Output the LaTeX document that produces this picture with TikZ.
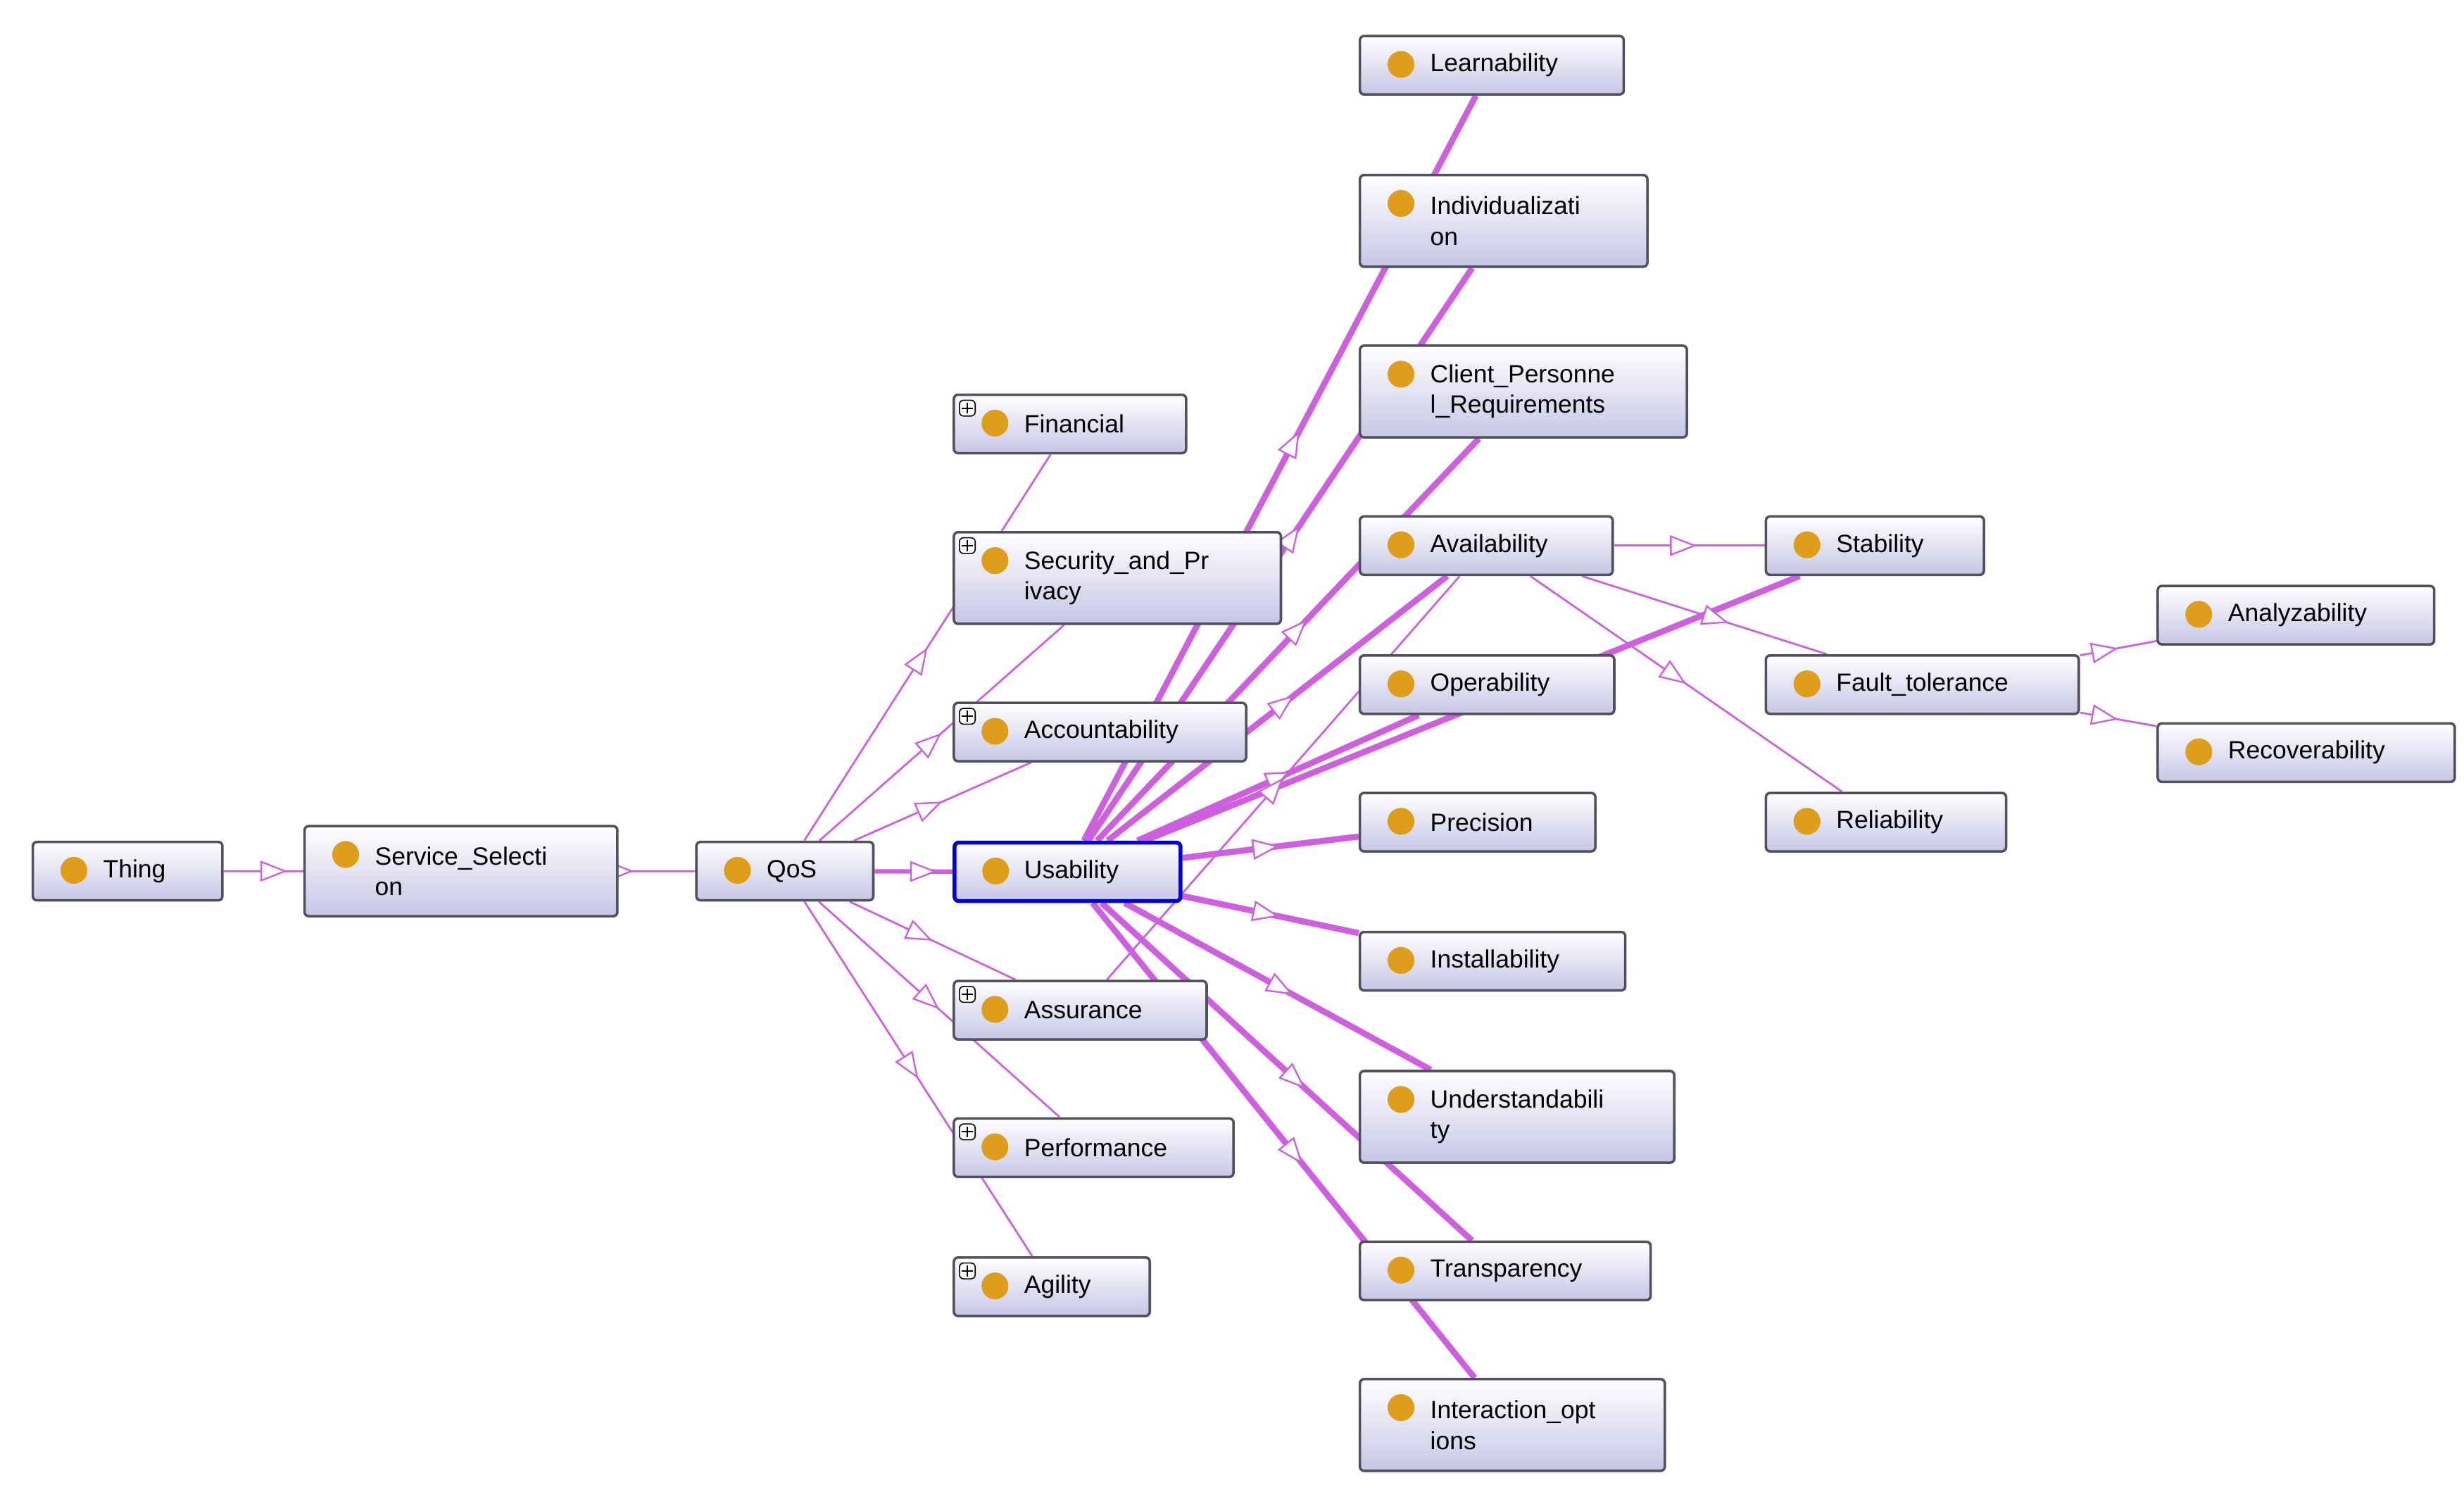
\documentclass[tikz,border=0pt]{standalone}
\usepackage{fontspec}
\setmainfont{Liberation Sans}
\usetikzlibrary{arrows.meta,decorations.markings,backgrounds}
\definecolor{edgec}{RGB}{206,96,224}
\definecolor{dotc}{RGB}{222,158,28}
\definecolor{boxc}{RGB}{198,198,230}
\definecolor{framec}{RGB}{80,80,95}
\tikzset{
  cls/.style={rectangle, rounded corners=1.5pt, draw=framec, line width=0.9pt,
    top color=white, bottom color=boxc, inner sep=0pt,
    path picture={\fill[dotc] ([xshift=0.52cm,yshift=-0.36cm]path picture bounding box.north west) circle (0.17cm);}},
  clsp/.style={cls,
    path picture={\fill[dotc] ([xshift=0.52cm,yshift=-0.36cm]path picture bounding box.north west) circle (0.17cm);
      \draw[black, line width=0.4pt, fill=white] ([xshift=0.07cm,yshift=-0.07cm]path picture bounding box.north west) rectangle ++(0.2cm,-0.2cm);
      \draw[black, line width=0.5pt] ([xshift=0.17cm,yshift=-0.1cm]path picture bounding box.north west) -- ++(0,-0.14cm)
        ([xshift=0.1cm,yshift=-0.17cm]path picture bounding box.north west) -- ++(0.14cm,0);}},
  lbl/.style={anchor=west, xshift=0.9cm, align=left, inner sep=0pt, font=\fontsize{9}{11}\selectfont},
  sel/.style={draw=blue!85!black, line width=1.4pt},
  sub/.style={draw=edgec, line width=0.7pt, postaction={decorate},
    decoration={markings, mark=at position #1 with {\arrow{Triangle[open, fill=white, length=0.34cm, width=0.26cm, line width=0.6pt]}}}},
  sub/.default=0.6,
  subt/.style={sub=#1, line width=2.2pt},
  subt/.default=0.55,
}
\newcommand\cls[7][cls]{%
  \node[#1, minimum width={(#5-#3)*0.02cm}, minimum height={(#6-#4)*0.02cm}, anchor=north west,
    label={[lbl]west:#7}] (#2) at (#3*0.02,-#4*0.02) {};}
\begin{document}
\begin{tikzpicture}
\useasboundingbox (0,0) rectangle (31.2,-18.86);

\cls{thing}{20}{532}{140}{569}{Thing}
\cls{service}{192}{522}{390}{579}{Service\_Selecti\\on}
\cls{qos}{440}{532}{552}{569}{QoS}
\cls[clsp]{financial}{603}{249}{750}{286}{Financial}
\cls[clsp]{security}{603}{336}{810}{394}{Security\_and\_Pr\\ivacy}
\cls[clsp]{accountability}{603}{444}{788}{481}{Accountability}
\cls[cls,sel]{usability}{603}{532}{746}{569}{Usability}
\cls[clsp]{assurance}{603}{620}{763}{657}{Assurance}
\cls[clsp]{performance}{603}{707}{780}{744}{Performance}
\cls[clsp]{agility}{603}{795}{727}{832}{Agility}
\cls{learnability}{860}{22}{1027}{59}{Learnability}
\cls{individual}{860}{110}{1042}{168}{Individualizati\\on}
\cls{client}{860}{218}{1067}{276}{Client\_Personne\\l\_Requirements}
\cls{availability}{860}{326}{1020}{363}{Availability}
\cls{operability}{860}{414}{1021}{451}{Operability}
\cls{precision}{860}{501}{1009}{538}{Precision}
\cls{installability}{860}{589}{1028}{626}{Installability}
\cls{understand}{860}{677}{1059}{735}{Understandabili\\ty}
\cls{transparency}{860}{785}{1044}{822}{Transparency}
\cls{interaction}{860}{872}{1053}{930}{Interaction\_opt\\ions}
\cls{stability}{1117}{326}{1255}{363}{Stability}
\cls{fault}{1117}{414}{1315}{451}{Fault\_tolerance}
\cls{reliability}{1117}{501}{1269}{538}{Reliability}
\cls{analyz}{1365}{370}{1540}{407}{Analyzability}
\cls{recover}{1365}{457}{1553}{494}{Recoverability}

\begin{scope}[on background layer]
  \draw[sub=0.8] (thing) -- (service);
  \draw[sub=0.2] (service) -- (qos);
  \draw[subt=0.8, line width=1.6pt] (qos) -- (usability);
  \foreach \c in {financial, security, accountability, assurance, performance, agility}
    \draw[sub=0.5] (qos) -- (\c);
  \foreach \c in {learnability, individual, client, availability, operability, precision,
      installability, understand, transparency, interaction, stability}
    \draw[subt] (usability) -- (\c);
  \draw[sub=0.5] (assurance) -- (availability);
  \draw[sub=0.55] (availability) -- (stability);
  \draw[sub=0.6] (availability) -- (fault);
  \draw[sub=0.5] (availability) -- (reliability);
  \draw[sub=0.5] (fault) -- (analyz);
  \draw[sub=0.5] (fault) -- (recover);
\end{scope}
\end{tikzpicture}
\end{document}
